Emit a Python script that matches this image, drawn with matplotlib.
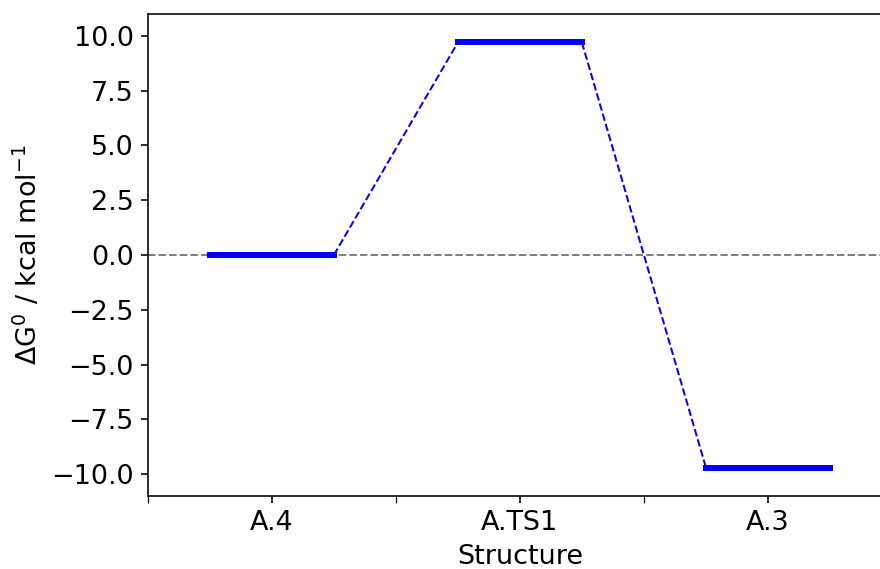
import matplotlib
matplotlib.use("Agg")
import matplotlib.pyplot as plt

structures = ["A.4", "A.TS1", "A.3"]
energies = [0.0, 9.7, -9.7]
centers = [1, 3, 5]
half_width = 0.5

fig = plt.figure(figsize=(880 / 144, 569 / 144), dpi=144)
ax = fig.add_axes([0.168, 0.1283, 1.0136 - 0.168, 0.9754 - 0.1283])

ax.axhline(0, color="grey", linestyle="--", linewidth=1)

for c, e in zip(centers, energies):
    ax.plot([c - half_width, c + half_width], [e, e], color="blue", linewidth=3)

for i in range(len(centers) - 1):
    ax.plot([centers[i] + half_width, centers[i + 1] - half_width],
            [energies[i], energies[i + 1]], color="blue", linestyle="--", linewidth=1)

ax.set_xlim(0, 6)
ax.set_ylim(-11, 11)
ax.set_xticks(centers)
ax.set_xticklabels(structures)
ax.set_xticks([0, 2, 4], minor=True)
ax.tick_params(which="minor", length=3.5)
ax.tick_params(labelsize=13.5)
ax.set_yticks([-10, -7.5, -5, -2.5, 0, 2.5, 5, 7.5, 10])
ax.set_xlabel("Structure", fontsize=13.5)
ax.set_ylabel(r"$\Delta$G$^0$ / kcal mol$^{-1}$", fontsize=13.5)

fig.savefig("out.png", dpi=144)
